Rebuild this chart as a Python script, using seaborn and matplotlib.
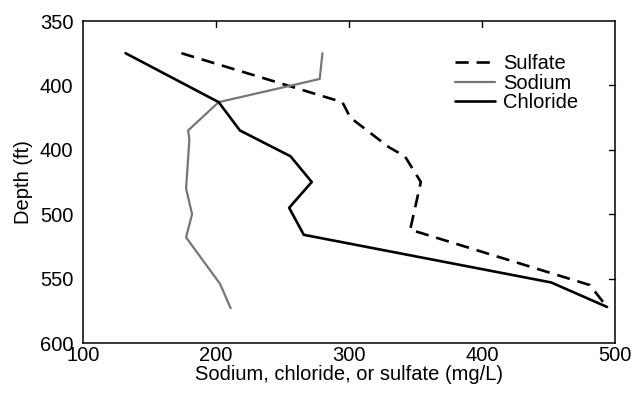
import matplotlib
matplotlib.use("Agg")
import matplotlib.pyplot as plt
import seaborn as sns
import pandas as pd

# Data
sulfate_depth = [375, 413, 425, 448, 455, 475, 512, 555, 572]
sulfate_conc = [174, 295, 301, 330, 342, 354, 346, 481, 494]

sodium_depth = [375, 395, 413, 435, 442, 480, 500, 518, 554, 573]
sodium_conc = [280, 278, 202, 179, 180, 177.5, 182, 177.5, 203, 211]

chloride_depth = [375, 413, 435, 455, 475, 495, 516, 553, 572]
chloride_conc = [132, 202, 218, 256, 272, 255, 266, 452, 494]

y_ticks = [350, 400, 450, 500, 550, 600]
y_tick_labels = ["350", "400", "400", "500", "550", "600"]
x_ticks = [100, 200, 300, 400, 500]
x_tick_labels = ["100", "200", "300", "400", "500"]

sns.set_theme(style="white")
plt.rcParams['font.family'] = ['Liberation Sans', 'DejaVu Sans']

FS = 14.5

fig = plt.figure(figsize=(6.36, 4.0), dpi=100)
ax = fig.add_axes([0.1305, 0.1425, 0.8365, 0.805])

df_s = pd.DataFrame({"conc": sulfate_conc, "depth": sulfate_depth})
df_na = pd.DataFrame({"conc": sodium_conc, "depth": sodium_depth})
df_cl = pd.DataFrame({"conc": chloride_conc, "depth": chloride_depth})

sns.lineplot(data=df_s, x="conc", y="depth", sort=False, estimator=None, ax=ax,
             color="black", lw=1.9, label="Sulfate", linestyle=(0, (5, 3)))
sns.lineplot(data=df_na, x="conc", y="depth", sort=False, estimator=None, ax=ax,
             color="#767676", lw=1.6, label="Sodium")
sns.lineplot(data=df_cl, x="conc", y="depth", sort=False, estimator=None, ax=ax,
             color="black", lw=1.9, label="Chloride")

ax.set_xlim(100, 500)
ax.set_ylim(600, 350)

ax.set_xticks(x_ticks)
ax.set_xticklabels(x_tick_labels)
ax.set_yticks(y_ticks)
ax.set_yticklabels(y_tick_labels)
ax.set_xticks([150, 200, 250, 300, 400, 450], minor=True)
ax.set_yticks([375, 425, 475, 525, 575], minor=True)

ax.tick_params(axis="both", which="both", direction="in", length=6, width=1,
               color="black", labelsize=FS, labelcolor="black")
ax.tick_params(axis="x", which="major", length=0, pad=2)
ax.tick_params(axis="y", which="major", length=6, pad=7)

# mirrored ticks on top and right
for x in [200, 300, 400]:
    ax.plot([x, x], [350, 350 + 6 / 1.288], color="black", lw=1, clip_on=False)
for y in [400, 450, 500, 550]:
    ax.plot([500 - 6 / 1.328, 500], [y, y], color="black", lw=1, clip_on=False)

for sp in ax.spines.values():
    sp.set_color("black")
    sp.set_linewidth(1.1)

ax.set_xlabel("Sodium, chloride, or sulfate (mg/L)", fontsize=FS, color="black", labelpad=0)
ax.set_ylabel("Depth (ft)", fontsize=FS, color="black", labelpad=5)

leg = ax.legend(loc="upper left", bbox_to_anchor=(0.699, 0.897), frameon=False,
                fontsize=FS, handlelength=2.0, handletextpad=0.4, labelspacing=0.02,
                borderaxespad=0, borderpad=0)
for t in leg.get_texts():
    t.set_color("black")

fig.savefig("out.png", dpi=100)
